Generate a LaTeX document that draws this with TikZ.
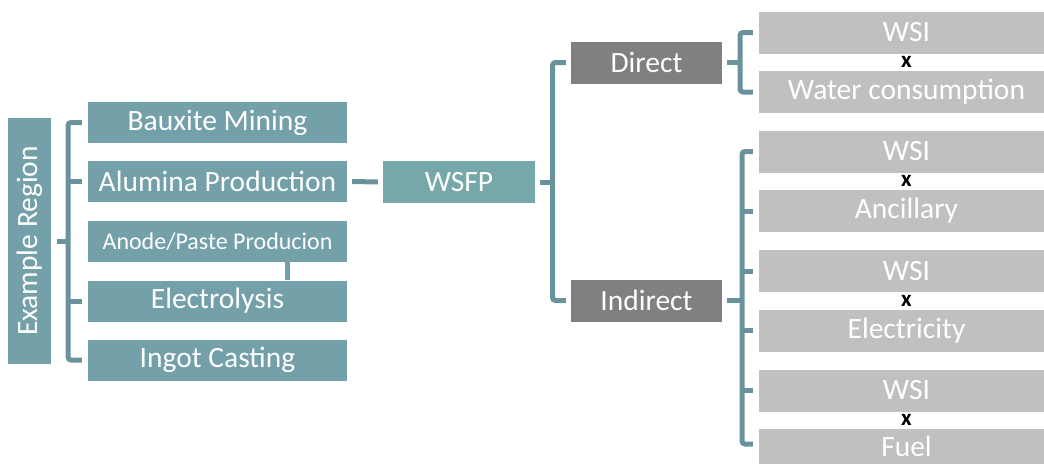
\documentclass[tikz,border=0pt]{standalone}
\usepackage{fontspec}
\setmainfont{Carlito}
\usetikzlibrary{calc}
\definecolor{tealbox}{HTML}{73A0A9}
\definecolor{tealw}{HTML}{76A8A9}
\definecolor{brc}{HTML}{6A929C}
\definecolor{dgrey}{HTML}{808080}
\definecolor{lgrey}{HTML}{C0C0C0}
\begin{document}
\begin{tikzpicture}[x=1pt,y=-1pt,
  basebox/.style={inner sep=0pt, text=white, font=\fontsize{29.5}{31}\selectfont},
  tbox/.style={basebox, fill=tealbox, minimum width=259pt, minimum height=41pt},
  dbox/.style={basebox, fill=dgrey, minimum width=151pt, minimum height=42pt},
  gbox/.style={basebox, fill=lgrey, minimum width=295pt, minimum height=42pt},
  br/.style={draw=brc, line width=5pt, rounded corners=3pt},
  tk/.style={draw=brc, line width=5pt},
  xmark/.style={inner sep=0pt, font=\fontsize{23}{23}\selectfont\bfseries}]
\useasboundingbox (0,0) rectangle (1044,464);
\clip (0,0) rectangle (1044,464);
% left column
\node[basebox, fill=tealbox, rotate=90, minimum width=246pt, minimum height=43pt] (region) at (29.5,241) {Example Region};
\node[tbox] (bauxite) at (217.5,122.5) {Bauxite Mining};
\node[tbox] (alumina) at (217.5,181.5) {Alumina Production};
\node[tbox, font=\fontsize{24}{26}\selectfont] (anode) at (217.5,241.5) {Anode/Paste Producion};
\node[tbox] (electro) at (217.5,301) {Electrolysis};
\node[tbox] (ingot) at (217.5,360) {Ingot Casting};
% middle
\node[basebox, fill=tealw, minimum width=152pt, minimum height=42pt] (wsfp) at (459,182) {WSFP};
\node[dbox] (direct) at (646.5,62.5) {Direct};
\node[dbox] (indirect) at (646.5,300.5) {Indirect};
% right
\node[gbox] (wsi1) at (906.5,32.5) {WSI};
\node[gbox] (water) at (906.5,92) {Water consumption};
\node[gbox] (wsi2) at (906.5,151.5) {WSI};
\node[gbox] (anc) at (906.5,211) {Ancillary};
\node[gbox] (wsi3) at (906.5,271) {WSI};
\node[gbox] (elec) at (906.5,330.5) {Electricity};
\node[gbox] (wsi4) at (906.5,390.5) {WSI};
\node[gbox, minimum height=35pt] (fuel) at (906.5,446.5) {Fuel};
\node[xmark] (x1) at ($(wsi1.south)!.5!(water.north)$) {x};
\node[xmark] (x2) at ($(wsi2.south)!.5!(anc.north)$) {x};
\node[xmark] (x3) at ($(wsi3.south)!.5!(elec.north)$) {x};
\node[xmark] (x4) at ($(wsi4.south)!.5!(fuel.north)$) {x};
% left bracket
\coordinate (lb) at (68,241);
\draw[tk] ([xshift=6pt]region.south) -- (lb);
\draw[br] ([xshift=-6pt]bauxite.west) -- (bauxite.west -| lb) -- (ingot.west -| lb) -- ([xshift=-6pt]ingot.west);
\draw[tk] (alumina.west -| lb) -- ([xshift=-6pt]alumina.west);
\draw[tk] (electro.west -| lb) -- ([xshift=-6pt]electro.west);
% anode - electrolysis
\draw[draw=tealbox, line width=5pt] ([xshift=69.5pt]anode.south) -- ([xshift=69.5pt]electro.north);
% alumina - wsfp
\draw[tk] ([xshift=5pt]alumina.east) -- ([xshift=-5pt]wsfp.west);
% wsfp bracket
\coordinate (mb) at (552.5,182);
\draw[tk] ([xshift=5pt]wsfp.east) -- (mb);
\draw[br] ([xshift=-5pt]direct.west) -- (direct.west -| mb) -- (indirect.west -| mb) -- ([xshift=-5pt]indirect.west);
% direct bracket
\coordinate (db) at (740,62.5);
\draw[tk] ([xshift=5pt]direct.east) -- (db);
\draw[br] ([xshift=-6pt]wsi1.west) -- (wsi1.west -| db) -- (water.west -| db) -- ([xshift=-6pt]water.west);
% indirect bracket
\coordinate (ib) at (742,300.5);
\draw[tk] ([xshift=5pt]indirect.east) -- (ib);
\draw[br] ([xshift=-6pt]wsi2.west) -- (wsi2.west -| ib) -- ([yshift=2.5pt]fuel.west -| ib) -- ([xshift=-6pt,yshift=2.5pt]fuel.west);
\draw[tk] (anc.west -| ib) -- ([xshift=-6pt]anc.west);
\draw[tk] (wsi3.west -| ib) -- ([xshift=-6pt]wsi3.west);
\draw[tk] (elec.west -| ib) -- ([xshift=-6pt]elec.west);
\draw[tk] (wsi4.west -| ib) -- ([xshift=-6pt]wsi4.west);
\end{tikzpicture}
\end{document}
